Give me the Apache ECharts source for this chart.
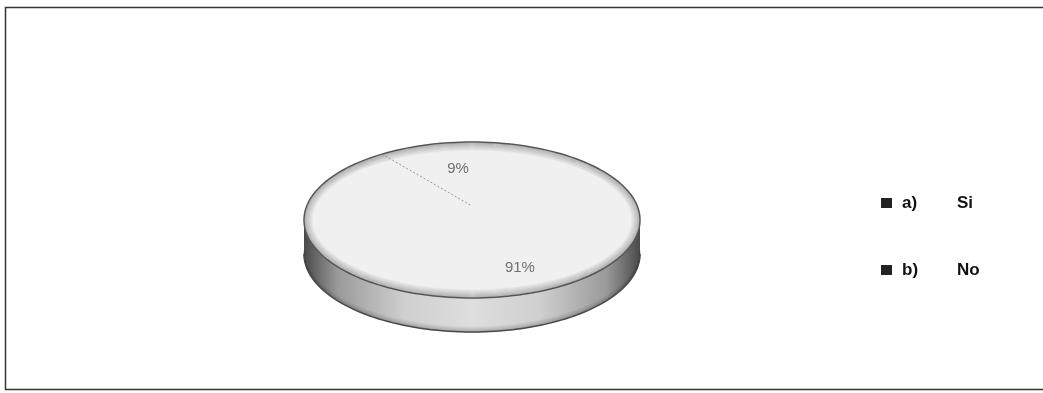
<!DOCTYPE html>
<html><head><meta charset="utf-8">
<script src="https://cdn.jsdelivr.net/npm/echarts@6/dist/echarts.min.js"></script>
<style>html,body{margin:0;padding:0;background:#fff}#c{width:1043px;height:393px}</style>
</head><body><div id="c"></div>
<script>
const categories = ['a)', 'b)'];
const answers = ['Si', 'No'];
const values = [91, 9];

const total = values.reduce((a, b) => a + b, 0);
const CX = 472, CY = 220, RX = 168, RY = 78, DEPTH = 34, HUB_Y = 206;
function pt(deg, dy, inset) {
  const r = deg * Math.PI / 180;
  const d = inset || 0;
  return [CX + (RX - d) * Math.sin(r), CY - (RY - d) * Math.cos(r) + (dy || 0)];
}
function arc(a, b, dy, inset) {
  const pts = [];
  const n = Math.max(2, Math.ceil((b - a) / 2));
  for (let i = 0; i <= n; i++) pts.push(pt(a + (b - a) * i / n, dy, inset));
  return pts;
}

function renderItem(params, api) {
  const idx = params.seriesIndex;
  const v = api.value(0);
  let before = 0;
  for (let i = 0; i < idx; i++) before += values[i];
  const start = before / total * 360;
  const end = start + v / total * 360;
  const children = [];
  // side wall (front half only)
  const s = Math.max(start, 90), e = Math.min(end, 270);
  if (e > s) {
    const top = arc(s, e, 0);
    const bot = arc(s, e, DEPTH).reverse();
    children.push({
      type: 'polygon',
      shape: { points: top.concat(bot) },
      style: {
        fill: new echarts.graphic.LinearGradient(0, 0, 1, 0, [
          { offset: 0, color: '#4a4a4a' },
          { offset: 0.1, color: '#9a9a9a' },
          { offset: 0.3, color: '#cfcfcf' },
          { offset: 0.5, color: '#dedede' },
          { offset: 0.7, color: '#cfcfcf' },
          { offset: 0.9, color: '#9a9a9a' },
          { offset: 1, color: '#4a4a4a' }
        ]),
        stroke: 'none'
      }
    });
    for (let d = 1; d <= 6; d++) {
      children.push({
        type: 'polyline',
        shape: { points: arc(s, e, DEPTH - d + 1) },
        style: { stroke: 'rgba(40,40,40,' + (0.35 - d * 0.05) + ')', lineWidth: 1, fill: 'none' }
      });
    }
    children.push({
      type: 'polyline',
      shape: { points: arc(s, e, DEPTH) },
      style: { stroke: '#4a4a4a', lineWidth: 1.5, fill: 'none' }
    });
  }
  // top surface
  const topArc = arc(start, end, 0);
  children.push({
    type: 'polygon',
    shape: { points: [[CX, HUB_Y]].concat(topArc) },
    style: { fill: '#f0f0f0', stroke: 'none' }
  });
  // inner rim shading
  for (let d = 1; d <= 8; d++) {
    children.push({
      type: 'polyline',
      shape: { points: arc(start, end, 0, d) },
      style: { stroke: 'rgba(60,60,60,' + (0.32 - d * 0.035) + ')', lineWidth: 1.2, fill: 'none' }
    });
  }
  children.push({
    type: 'polyline',
    shape: { points: topArc },
    style: { stroke: '#555', lineWidth: 1.5, fill: 'none' }
  });
  if (start > 0) {
    children.push({
      type: 'polyline',
      shape: { points: [pt(start, 0), [CX, HUB_Y]] },
      style: { stroke: 'rgba(110,110,110,0.7)', lineWidth: 1, lineDash: [2, 2], fill: 'none' }
    });
  }
  // label
  const mid = (start + end) / 2;
  const lp = pt(mid, 0);
  const k = 0.66;
  children.push({
    type: 'text',
    x: CX + (lp[0] - CX) * k + 17,
    y: CY + (lp[1] - CY) * k - 2,
    style: {
      text: Math.round(v / total * 100) + '%',
      fill: '#707070',
      font: '15px "Liberation Sans", sans-serif',
      align: 'center',
      verticalAlign: 'middle'
    }
  });
  return { type: 'group', children };
}

const series = categories.map((c, i) => ({
  type: 'custom',
  name: c + ' ' + answers[i],
  coordinateSystem: 'none',
  data: [values[i]],
  renderItem: renderItem,
  itemStyle: { color: '#efefef' }
}));

const chart = echarts.init(document.getElementById('c'));
chart.setOption({
  animation: false,
  backgroundColor: '#fff',
  graphic: [{
    type: 'rect',
    shape: { x: 5.5, y: 7.5, width: 1045, height: 382 },
    style: { fill: 'none', stroke: '#333', lineWidth: 1.5 },
    silent: true
  }],
  legend: {
    orient: 'vertical',
    left: 876,
    top: 188,
    itemWidth: 11,
    itemHeight: 10,
    itemGap: 47,
    icon: 'rect',
    itemStyle: { color: '#222', borderWidth: 0 },
    formatter: name => {
      const p = name.split(' ');
      return '{k|' + p[0] + '}{v|' + p[1] + '}';
    },
    textStyle: {
      fontSize: 17,
      fontWeight: 'bold',
      color: '#111',
      fontFamily: 'Liberation Sans',
      lineHeight: 20,
      rich: {
        k: { width: 55, padding: [0, 0, 0, 5], fontSize: 17, fontWeight: 'bold', color: '#111', fontFamily: 'Liberation Sans' },
        v: { fontSize: 17, fontWeight: 'bold', color: '#111', fontFamily: 'Liberation Sans' }
      }
    }
  },
  series: series
});
</script>
</body></html>
